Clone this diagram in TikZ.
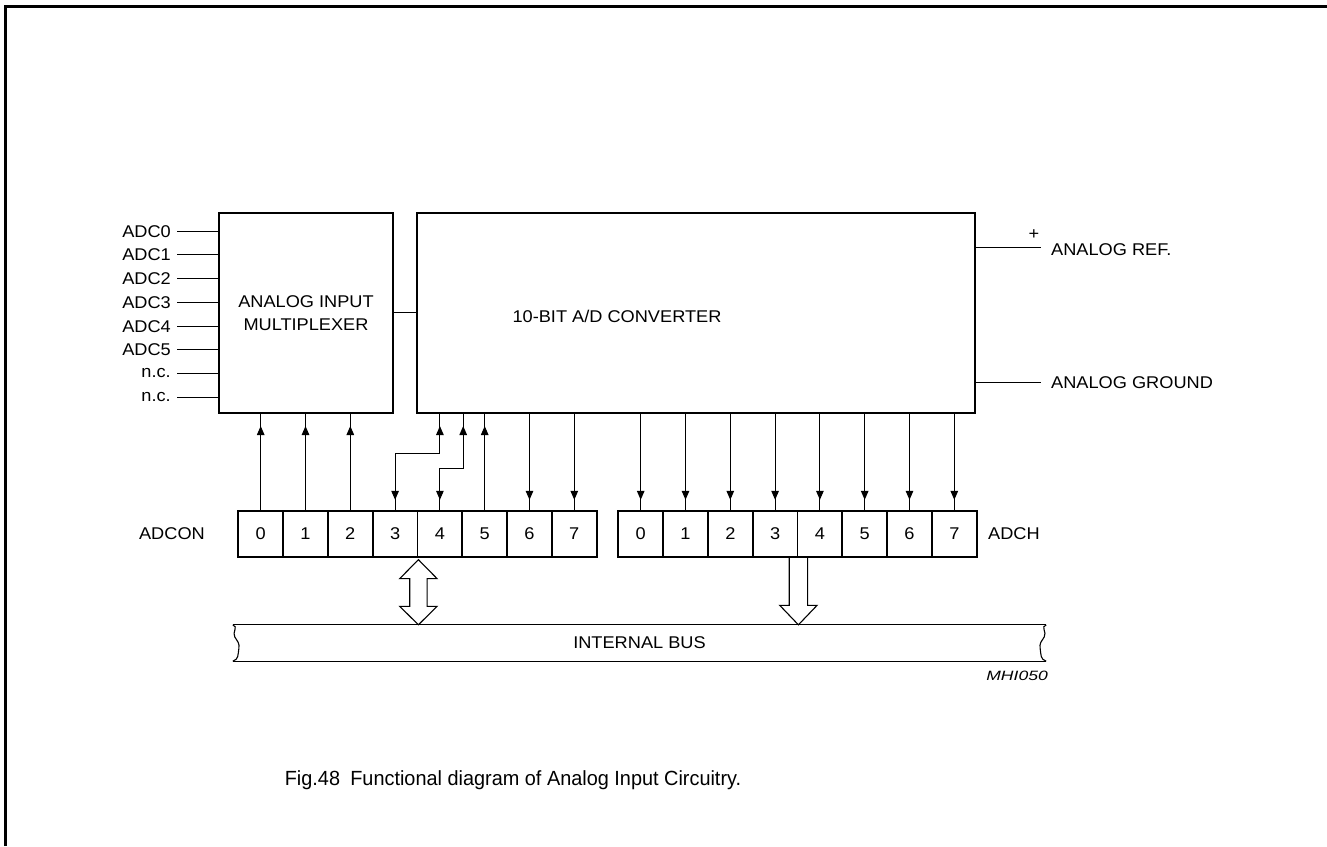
\documentclass[tikz,border=0pt]{standalone}
\usepackage{fontspec}
\setmainfont{Liberation Sans}[FakeStretch=1.07]
\newfontfamily\mhifont{Liberation Sans}[FakeStretch=1.3]
\newfontfamily\capfont{Liberation Sans}[FakeStretch=0.97]
\usetikzlibrary{arrows.meta,decorations.markings,calc}
\tikzset{
  tri/.tip={Triangle[length=9pt,width=7.5pt]},
  thin line/.style={line width=1.1pt},
  block/.style={draw,line width=2pt,inner sep=0pt},
  cell/.style={draw,line width=1.8pt,minimum width=44.8pt,minimum height=45.5pt,inner sep=0pt},
  upend/.style={postaction={decorate,decoration={markings,mark=at position -12pt with {\arrow{tri}}}}},
  downend/.style={postaction={decorate,decoration={markings,mark=at position -10.5pt with {\arrow{tri}}}}},
  upstart/.style={postaction={decorate,decoration={markings,mark=at position 12pt with {\arrowreversed{tri}}}}},
  lbl/.style={inner sep=0pt},
}
\begin{document}
\begin{tikzpicture}[x=1pt,y=-1pt,font=\fontsize{17}{20}\selectfont]
\useasboundingbox (0,0) rectangle (1327,846);
% frame
\draw[line width=2.2pt] (5.5,846) -- (5.5,6.5) -- (1327,6.5);

% blocks
\node[block,minimum width=173.4pt,minimum height=200pt,align=center] (mux) at (306,313) {ANALOG INPUT\\[3pt]MULTIPLEXER};
\node[block,minimum width=558.3pt,minimum height=200pt] (adc) at (695.8,313) {};
\node[lbl] (adctxt) at (617,316) {10-BIT A/D CONVERTER};
\draw[thin line] ([yshift=0.5pt]mux.east) -- ([yshift=0.5pt]mux.east -| adc.west);

% inputs
\foreach \t/\y [count=\i] in {ADC0/231.5,ADC1/254.5,ADC2/278.5,ADC3/302.5,ADC4/326.5,ADC5/349.5,n.c./373.5,n.c./397.5}{
  \node[lbl,anchor=east] (in\i) at (171,\y) {\t};
  \draw[thin line] ([xshift=6pt]in\i.east) -- (in\i.east -| mux.west);
}

% reference / ground
\coordinate (refend) at (1041,247.5);
\coordinate (gndend) at (1041,382.5);
\draw[thin line] (refend -| adc.east) -- (refend);
\draw[thin line] (gndend -| adc.east) -- (gndend);
\node[lbl] (plus) at (1034,235) {+};
\node[lbl,anchor=west] (reflbl) at (1051,250) {ANALOG REF.};
\node[lbl,anchor=west] (gndlbl) at (1051,383) {ANALOG GROUND};

% registers
\foreach \i in {0,...,7}{
  \node[cell] (c\i) at ({238.3+44.8*(\i+0.5)},534) {\i};
  \node[cell] (h\i) at ({618.3+44.8*(\i+0.5)},534) {\i};
}
\node[lbl,anchor=east] (adconlbl) at (205,534) {ADCON};
\node[lbl,anchor=west] (adchlbl) at (988,534) {ADCH};

% ADCON connections
\foreach \i in {0,1,2}{
  \draw[thin line,upend] (c\i.north) -- (c\i.north |- mux.south);
}
\draw[thin line,upstart,downend] (c4.north |- adc.south) -- (c4.north |- 0,453.5) -- (c3.north |- 0,453.5) -- (c3.north);
\draw[thin line,upstart,downend] (c4.north east |- adc.south) -- (c4.north east |- 0,468.5) -- (c4.north |- 0,468.5) -- (c4.north);
\draw[thin line,upend] (c5.north) -- (c5.north |- adc.south);
\foreach \i in {6,7}{
  \draw[thin line,downend] (c\i.north |- adc.south) -- (c\i.north);
}
% ADCH connections
\foreach \i in {0,...,7}{
  \draw[thin line,downend] (h\i.north |- adc.south) -- (h\i.north);
}

% internal bus
\node[lbl,minimum width=813pt,minimum height=36pt] (bus) at (639.5,643) {INTERNAL BUS};
\draw[thin line] (bus.north west) -- (bus.north east);
\draw[thin line] (bus.south west) -- (bus.south east);
\draw[thin line] (bus.north west) .. controls ++(6,2) and ++(-3,-5) .. ($(bus.west)+(2,-6)$)
  .. controls ++(3,5) and ++(1,-6) .. ($(bus.west)+(6,6)$)
  .. controls ++(-1,6) and ++(6,-2) .. (bus.south west);
\draw[thin line] (bus.north east) .. controls ++(-6,2) and ++(3,-5) .. ($(bus.east)+(-2,-6)$)
  .. controls ++(-3,5) and ++(-1,-6) .. ($(bus.east)+(-6,6)$)
  .. controls ++(1,6) and ++(-6,-2) .. (bus.south east);

% bus arrows
\coordinate (da) at ($(c3.south east)+(0,2)$);
\coordinate (db) at (da |- bus.north);
\draw[thin line,line join=miter] (da) -- ++(18.7,19) -- ++(-10,0) -- ($(db)+(8.7,-18.5)$) -- ++(10,0)
  -- (db) -- ++(-18.7,-18.5) -- ++(10,0) -- ($(da)+(-8.7,19)$) -- ++(-10,0) -- cycle;
\coordinate (ha) at (h3.south east);
\coordinate (hb) at (ha |- bus.north);
\draw[thin line,line join=miter] ($(ha)+(-9.2,0)$) -- ($(hb)+(-9.2,-19.5)$) -- ++(-9.5,0) -- (hb)
  -- ++(18.7,-19.5) -- ++(-9.5,0) -- ($(ha)+(9.2,0)$);

\node[lbl,anchor=east] (mhi) at (1048,676) {\mhifont\itshape\fontsize{13.5}{16}\selectfont MHI050};

\node[lbl] (caption) at (513,780) {\capfont\fontsize{20.5}{24}\selectfont Fig.48\enspace Functional diagram of Analog Input Circuitry.};
\end{tikzpicture}
\end{document}
